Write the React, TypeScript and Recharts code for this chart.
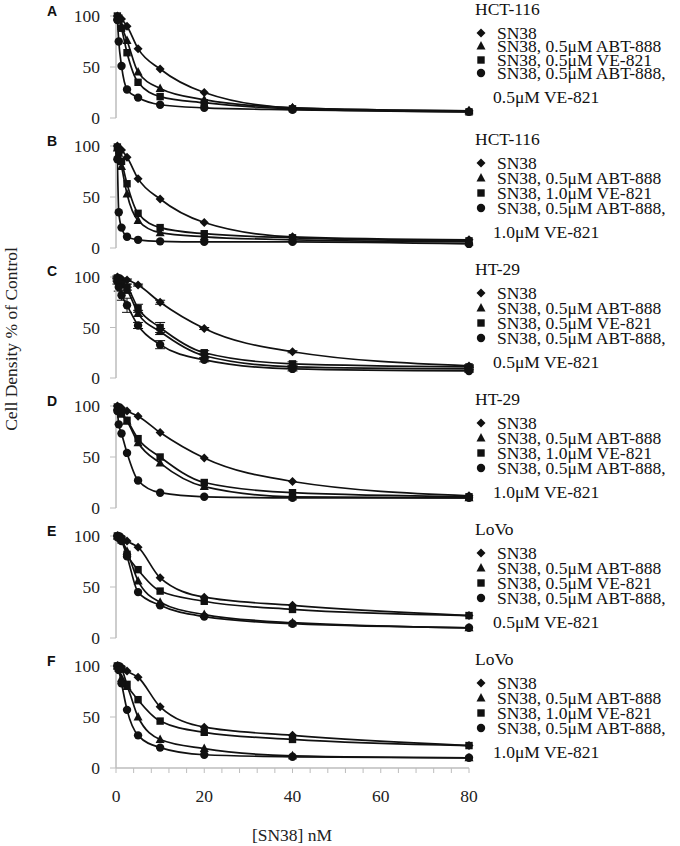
import React from 'react';
import { LineChart, Line, XAxis, YAxis, ErrorBar } from 'recharts';

// [SN38] nM, two-fold dilution series
const conc = [0.3125, 0.625, 1.25, 2.5, 5, 10, 20, 40, 80];
const xTicks = [0, 4, 8, 12, 16, 20, 24, 28, 32, 36, 40, 44, 48, 52, 56, 60, 64, 68, 72, 76, 80];
const yTicks = [0, 50, 100];

// A: HCT-116, 0.5uM VE-821
const sn38A = [100, 99, 97, 90, 68, 48, 25, 10, 7];
const abtA = [99, 97, 90, 76, 45, 29, 18, 10, 7];
const veA = [100, 98, 88, 64, 35, 21, 15, 9, 6];
const comboA = [96, 75, 51, 28, 20, 13, 10, 8, 6];

// B: HCT-116, 1.0uM VE-821
const sn38B = [100, 98, 96, 89, 68, 48, 25, 11, 8];
const abtB = [98, 93, 80, 53, 27, 15, 11, 8, 6];
const veB = [99, 95, 85, 63, 34, 20, 14, 10, 7];
const comboB = [87, 35, 20, 11, 8, 6.5, 6, 6, 4];

// C: HT-29, 0.5uM VE-821
const sn38C = [100, 99, 98, 97, 92, 75, 49, 26, 12];
const abtC = [98, 96, 92, 87, 64, 46, 22, 11, 9];
const veC = [99, 97, 93, 90, 69, 50, 25, 14, 11];
const comboC = [96, 90, 82, 72, 52, 33, 18, 9, 7];
const sn38ErrC = [1, 1, 1, 1, 1, 2, 1, 1, 1];
const abtErrC = [2, 2, 2, 3, 3, 3, 2, 1, 1];
const veErrC = [1, 2, 2, 3, 4, 5, 2, 2, 1];
const comboErrC = [3, 4, 5, 7, 3, 4, 2, 2, 1];

// D: HT-29, 1.0uM VE-821
const sn38D = [100, 99, 98, 95, 90, 74, 49, 26, 12];
const abtD = [99, 96, 92, 85, 64, 44, 21, 11, 10];
const veD = [99, 97, 93, 86, 68, 50, 25, 15, 11];
const comboD = [95, 82, 73, 54, 27, 15, 11, 10, 10];

// E: LoVo, 0.5uM VE-821
const sn38E = [100, 100, 99, 95, 89, 59, 40, 32, 22];
const abtE = [100, 99, 96, 85, 56, 35, 23, 15, 10];
const veE = [100, 99, 97, 82, 67, 46, 36, 28, 22];
const comboE = [100, 98, 95, 80, 45, 32, 21, 14, 10];

// F: LoVo, 1.0uM VE-821
const sn38F = [100, 100, 99, 95, 89, 60, 40, 32, 22];
const abtF = [100, 98, 88, 80, 50, 28, 19, 12, 10];
const veF = [100, 99, 97, 82, 67, 46, 35, 28, 22];
const comboF = [100, 96, 83, 57, 32, 20, 13, 11, 10];

const panels = [
  { letter: 'A', cell: 'HCT-116', ve: '0.5', sn38: sn38A, abt: abtA, vex: veA, combo: comboA },
  { letter: 'B', cell: 'HCT-116', ve: '1.0', sn38: sn38B, abt: abtB, vex: veB, combo: comboB },
  {
    letter: 'C', cell: 'HT-29', ve: '0.5', sn38: sn38C, abt: abtC, vex: veC, combo: comboC,
    err: { sn38: sn38ErrC, abt: abtErrC, vex: veErrC, combo: comboErrC },
  },
  { letter: 'D', cell: 'HT-29', ve: '1.0', sn38: sn38D, abt: abtD, vex: veD, combo: comboD },
  { letter: 'E', cell: 'LoVo', ve: '0.5', sn38: sn38E, abt: abtE, vex: veE, combo: comboE },
  { letter: 'F', cell: 'LoVo', ve: '1.0', sn38: sn38F, abt: abtF, vex: veF, combo: comboF },
];

const SERIF = '"Liberation Serif", "Times New Roman", serif';
const AXIS = '#bdbdbd';
const INK = '#111';
const FS = 17.5;

const Marker = ({ cx, cy, shape }: { cx: number; cy: number; shape: string }) => {
  if (cx == null || cy == null) return null;
  if (shape === 'diamond')
    return <polygon points={`${cx},${cy - 4.5} ${cx + 4.5},${cy} ${cx},${cy + 4.5} ${cx - 4.5},${cy}`} fill={INK} />;
  if (shape === 'triangle')
    return <polygon points={`${cx},${cy - 5} ${cx + 4.5},${cy + 3.5} ${cx - 4.5},${cy + 3.5}`} fill={INK} />;
  if (shape === 'square') return <rect x={cx - 3.7} y={cy - 3.7} width={7.4} height={7.4} fill={INK} />;
  return <circle cx={cx} cy={cy} r={4.2} fill={INK} />;
};

const series = [
  { key: 'sn38', shape: 'diamond' },
  { key: 'abt', shape: 'triangle' },
  { key: 'vex', shape: 'square' },
  { key: 'combo', shape: 'circle' },
];

const Panel = ({ p, index }: { p: any; index: number }) => {
  const last = index === panels.length - 1;
  const data = conc.map((x, i) => {
    const row: any = { x };
    series.forEach((s) => {
      row[s.key] = p[s.key][i];
      if (p.err) row[s.key + 'Err'] = p.err[s.key][i];
    });
    return row;
  });
  const height = last ? 196 : 130;
  return (
    <div style={{ position: 'absolute', left: 0, top: 130 * index }}>
      <LineChart
        width={480}
        height={height}
        data={data}
        margin={{ top: 16, right: 11, left: 0, bottom: last ? 38 : 12 }}
      >
        <XAxis
          type="number"
          dataKey="x"
          domain={[0, 80]}
          ticks={xTicks}
          interval={0}
          height={last ? 40 : 0}
          axisLine={{ stroke: AXIS, strokeWidth: 1.5 }}
          tickLine={last ? { stroke: AXIS } : false}
          tickSize={5}
          tickMargin={17}
          tick={last ? { fill: '#222', fontSize: FS, fontFamily: SERIF } : false}
          tickFormatter={(v: number) => (v % 20 === 0 ? String(v) : '')}
        />
        <YAxis
          type="number"
          domain={[0, 100]}
          ticks={yTicks}
          interval={0}
          width={116}
          axisLine={{ stroke: AXIS, strokeWidth: 1.5 }}
          tickLine={{ stroke: AXIS }}
          tickSize={6}
          tickMargin={10}
          tick={{ fill: '#222', fontSize: FS, fontFamily: SERIF }}
        />
        {series.map((s) => (
          <Line
            key={s.key}
            type="monotone"
            dataKey={s.key}
            stroke={INK}
            strokeWidth={1.7}
            isAnimationActive={false}
            dot={(d: any) => <Marker key={`${s.key}-${d.index}`} cx={d.cx} cy={d.cy} shape={s.shape} />}
            activeDot={false}
          >
            {p.err && <ErrorBar dataKey={s.key + 'Err'} width={5} stroke={INK} strokeWidth={1} direction="y" />}
          </Line>
        ))}
      </LineChart>
    </div>
  );
};

const LegendSymbol = ({ shape }: { shape: string }) => (
  <svg width={12} height={12} style={{ position: 'absolute', left: -6, top: -6 }}>
    <Marker cx={6} cy={6} shape={shape} />
  </svg>
);

const Legend = ({ p, index }: { p: any; index: number }) => {
  const y100 = 16 + 130 * index;
  const gap = index === 0 ? 13.5 : 15;
  const box = Math.floor(gap) - 1;
  const labels = ['SN38', 'SN38, 0.5μM ABT-888', `SN38, ${p.ve}μM VE-821`, 'SN38, 0.5μM ABT-888,'];
  const text = (t: string, x: number, y: number, key: string) => (
    <div
      key={key}
      style={{
        position: 'absolute', left: x, top: y - box / 2, height: box, lineHeight: `${box}px`,
        fontFamily: SERIF, fontSize: FS, color: INK, whiteSpace: 'nowrap',
      }}
    >
      {t}
    </div>
  );
  const rows = labels.map((_, k) => y100 + 16.5 + gap * k);
  return (
    <>
      {text(p.cell, 475, y100 - 7, 'title')}
      {labels.map((l, k) => (
        <React.Fragment key={k}>
          <div style={{ position: 'absolute', left: 481, top: rows[k] }}>
            <LegendSymbol shape={series[k].shape} />
          </div>
          {text(l, 497, rows[k], 'l' + k)}
        </React.Fragment>
      ))}
      {text(`${p.ve}μM VE-821`, 493, rows[3] + 24, 'wrap')}
    </>
  );
};

export default function App() {
  return (
    <div style={{ position: 'absolute', left: 0, top: 0, width: 680, height: 846, background: '#fff', overflow: 'hidden' }}>
      {panels.map((p, i) => (
        <React.Fragment key={p.letter}>
          <Panel p={p} index={i} />
          <div
            style={{
              position: 'absolute', left: 47, top: 3 + 130 * i, fontFamily: '"Liberation Sans", Arial, sans-serif',
              fontWeight: 'bold', fontSize: 14, color: INK,
            }}
          >
            {p.letter}
          </div>
          <Legend p={p} index={i} />
        </React.Fragment>
      ))}
      <div
        style={{
          position: 'absolute', left: 11, top: 339, transform: 'translate(-50%, -50%) rotate(-90deg)',
          fontFamily: SERIF, fontSize: FS, color: '#222', whiteSpace: 'nowrap',
        }}
      >
        Cell Density % of Control
      </div>
      <div
        style={{
          position: 'absolute', left: 292, top: 835, transform: 'translate(-50%, -50%)',
          fontFamily: SERIF, fontSize: FS, color: '#222', whiteSpace: 'nowrap',
        }}
      >
        [SN38] nM
      </div>
    </div>
  );
}
